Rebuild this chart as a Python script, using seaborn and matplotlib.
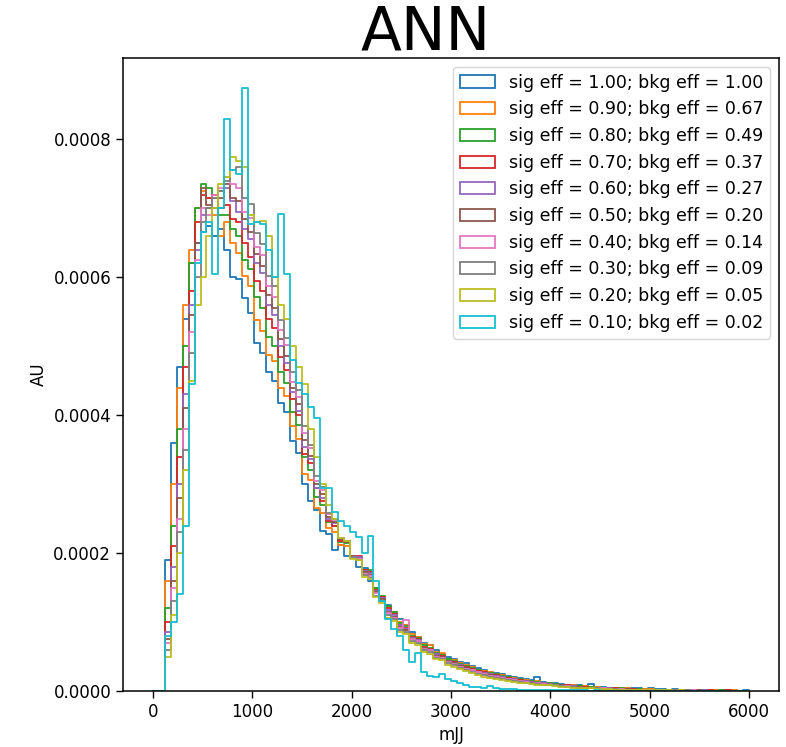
import numpy as np
import pandas as pd
import matplotlib
matplotlib.use("Agg")
import matplotlib.pyplot as plt
from matplotlib.patches import Patch
from matplotlib.ticker import FormatStrFormatter
import seaborn as sns

# ---------------- data (bin heights in units of 1e-6, 100 bins of width 60 from 0 to 6000)
MJJ_MIN, MJJ_MAX, N_BINS = 0, 6000, 100

sig_eff = [1.00, 0.90, 0.80, 0.70, 0.60, 0.50, 0.40, 0.30, 0.20, 0.10]
bkg_eff = [1.00, 0.67, 0.49, 0.37, 0.27, 0.20, 0.14, 0.09, 0.05, 0.02]
colors = ["#1f77b4", "#ff7f0e", "#2ca02c", "#d62728", "#9467bd",
          "#8c564b", "#e377c2", "#7f7f7f", "#bcbd22", "#17becf"]

h_100 = [0, 0, 190, 360, 470, 540, 620, 650, 665, 675,
         660, 670, 640, 600, 598, 570, 548, 505, 490, 462,
         450, 418, 405, 362, 345, 300, 276, 262, 232, 228,
         205, 212, 196, 194, 180, 178, 160, 150, 135, 125,
         112, 105, 95, 85, 78, 70, 66, 60, 54, 50,
         46, 42, 40, 36, 33, 30, 28, 26, 24, 22,
         20, 19, 17, 16, 20, 13, 12, 11, 10, 9,
         9, 8, 7, 10, 6, 6, 5, 5, 5, 4,
         4, 4, 3, 4, 3, 3, 2, 3, 2, 2,
         2, 1, 2, 1, 1, 1, 1, 1, 0, 1]
h_090 = [0, 0, 160, 300, 440, 560, 640, 700, 725, 715,
         690, 660, 680, 650, 635, 602, 588, 538, 522, 488,
         478, 440, 428, 384, 366, 315, 306, 266, 258, 236,
         230, 212, 210, 196, 194, 176, 172, 148, 137, 122,
         114, 100, 95, 82, 78, 68, 66, 56, 55, 47,
         45, 40, 38, 35, 31, 29, 27, 25, 23, 21,
         19, 18, 16, 15, 14, 12, 11, 10, 9, 9,
         8, 7, 7, 6, 6, 5, 5, 4, 4, 4,
         3, 3, 3, 3, 2, 2, 2, 2, 2, 1,
         1, 1, 1, 1, 1, 1, 0, 1, 0, 0]
h_080 = [0, 0, 120, 240, 380, 500, 620, 700, 735, 730,
         700, 690, 690, 670, 660, 625, 612, 572, 556, 514,
         500, 462, 446, 404, 386, 340, 320, 282, 270, 245,
         240, 216, 214, 196, 194, 176, 175, 150, 138, 123,
         114, 98, 94, 80, 77, 66, 63, 55, 52, 46,
         43, 39, 36, 33, 30, 28, 26, 24, 22, 20,
         18, 17, 15, 14, 13, 12, 11, 10, 9, 8,
         7, 7, 6, 6, 5, 5, 4, 4, 4, 3,
         3, 3, 2, 2, 2, 2, 2, 1, 1, 1,
         1, 1, 1, 1, 0, 1, 0, 0, 0, 0]
h_070 = [0, 0, 100, 210, 340, 470, 580, 680, 720, 715,
         720, 700, 705, 685, 680, 650, 630, 594, 580, 540,
         526, 484, 466, 424, 400, 344, 330, 294, 275, 246,
         240, 218, 216, 196, 196, 176, 173, 147, 137, 120,
         112, 96, 92, 78, 75, 64, 61, 54, 51, 44,
         42, 38, 35, 32, 29, 27, 25, 23, 21, 19,
         17, 16, 14, 13, 12, 11, 10, 9, 8, 8,
         7, 6, 6, 5, 5, 4, 4, 4, 3, 3,
         3, 2, 2, 2, 2, 2, 1, 1, 1, 1,
         1, 1, 0, 1, 0, 0, 1, 0, 0, 0]
h_060 = [0, 0, 85, 180, 300, 430, 560, 640, 690, 700,
         715, 725, 730, 710, 695, 670, 655, 620, 606, 560,
         546, 500, 476, 434, 406, 354, 336, 295, 280, 250,
         243, 220, 216, 196, 194, 174, 171, 145, 135, 118,
         110, 95, 90, 77, 74, 63, 60, 53, 50, 44,
         41, 37, 34, 31, 28, 26, 24, 22, 20, 18,
         17, 15, 14, 13, 12, 11, 10, 9, 8, 7,
         7, 6, 5, 5, 5, 4, 4, 3, 3, 3,
         2, 2, 2, 2, 2, 1, 1, 1, 1, 1,
         1, 0, 1, 0, 0, 0, 0, 0, 0, 0]
h_050 = [0, 0, 75, 160, 280, 410, 545, 650, 730, 705,
         700, 715, 735, 715, 710, 685, 666, 634, 616, 574,
         556, 510, 486, 440, 416, 364, 341, 300, 285, 253,
         245, 220, 216, 196, 191, 172, 168, 143, 133, 115,
         108, 93, 88, 76, 73, 62, 60, 51, 49, 43,
         40, 36, 33, 30, 27, 25, 23, 21, 19, 18,
         16, 15, 13, 12, 11, 10, 9, 9, 8, 7,
         6, 6, 5, 5, 4, 4, 3, 3, 3, 3,
         2, 2, 2, 2, 1, 1, 1, 1, 1, 1,
         0, 1, 0, 0, 0, 0, 0, 0, 0, 0]
h_040 = [0, 0, 70, 150, 250, 380, 520, 625, 700, 690,
         720, 730, 745, 735, 730, 695, 686, 644, 632, 588,
         572, 524, 502, 448, 426, 374, 352, 304, 291, 256,
         248, 222, 218, 195, 191, 170, 167, 142, 131, 113,
         106, 92, 103, 75, 72, 61, 59, 50, 48, 42,
         39, 35, 32, 30, 27, 24, 22, 20, 19, 17,
         16, 14, 13, 12, 11, 10, 9, 8, 7, 7,
         6, 5, 5, 4, 4, 4, 3, 3, 3, 2,
         2, 2, 2, 1, 1, 1, 1, 1, 1, 0,
         1, 0, 0, 0, 0, 0, 0, 0, 0, 0]
h_030 = [0, 0, 60, 130, 230, 350, 490, 600, 680, 700,
         715, 725, 740, 755, 760, 715, 706, 664, 648, 602,
         588, 538, 512, 462, 436, 384, 357, 312, 296, 258,
         250, 222, 218, 194, 190, 168, 164, 138, 130, 110,
         104, 88, 86, 72, 70, 59, 57, 48, 47, 40,
         37, 34, 31, 28, 25, 23, 21, 19, 18, 16,
         15, 13, 12, 11, 10, 9, 8, 8, 7, 6,
         6, 5, 5, 4, 4, 3, 3, 3, 2, 2,
         2, 2, 1, 1, 1, 1, 1, 1, 0, 1,
         0, 0, 0, 0, 0, 0, 0, 0, 0, 0]
h_020 = [0, 0, 50, 110, 200, 320, 450, 560, 600, 660,
         700, 735, 745, 775, 768, 760, 690, 680, 682, 660,
         600, 560, 540, 500, 470, 445, 380, 340, 300, 270,
         250, 222, 218, 192, 190, 166, 162, 136, 128, 106,
         101, 86, 83, 69, 67, 56, 54, 46, 45, 38,
         35, 32, 29, 26, 23, 21, 19, 18, 16, 15,
         13, 12, 11, 10, 9, 8, 8, 7, 6, 6,
         5, 5, 4, 4, 3, 3, 3, 2, 2, 2,
         2, 1, 1, 1, 1, 1, 1, 0, 1, 0,
         0, 0, 0, 0, 0, 0, 0, 0, 0, 0]
h_010 = [0, 0, 80, 100, 140, 240, 445, 620, 665, 680,
         605, 700, 830, 755, 750, 874, 677, 680, 677, 640,
         600, 692, 605, 480, 446, 430, 412, 396, 295, 295,
         260, 246, 240, 230, 224, 200, 225, 160, 130, 105,
         90, 80, 60, 42, 55, 27, 22, 20, 24, 18,
         15, 12, 8, 6, 6, 5, 7, 4, 3, 3,
         3, 2, 2, 2, 2, 1, 1, 1, 1, 1,
         1, 1, 1, 0, 1, 0, 0, 0, 0, 0,
         0, 0, 0, 0, 0, 0, 0, 0, 0, 0,
         0, 0, 0, 0, 0, 0, 0, 0, 0, 0]

heights = [h_100, h_090, h_080, h_070, h_060, h_050, h_040, h_030, h_020, h_010]
labels = [f"sig eff = {s:.2f}; bkg eff = {b:.2f}" for s, b in zip(sig_eff, bkg_eff)]

# ---------------- plotting
sns.set_style("ticks")
plt.rcParams["font.family"] = ["DejaVu Sans"]
plt.rcParams["axes.edgecolor"] = "black"
plt.rcParams["axes.labelcolor"] = "black"
plt.rcParams["text.color"] = "black"
plt.rcParams["xtick.color"] = "black"
plt.rcParams["ytick.color"] = "black"

bin_width = (MJJ_MAX - MJJ_MIN) / N_BINS
centers = MJJ_MIN + bin_width * (np.arange(N_BINS) + 0.5)

fig = plt.figure(figsize=(7.86, 7.47), dpi=100)
ax = fig.add_axes([123 / 786, 1 - 691 / 747, (779 - 123) / 786, (691 - 58) / 747])

for h, c, lab in zip(heights, colors, labels):
    df = pd.DataFrame({"mJJ": centers, "w": np.asarray(h, dtype=float) * 1e-6})
    sns.histplot(data=df, x="mJJ", weights="w", bins=N_BINS,
                 binrange=(MJJ_MIN, MJJ_MAX), element="step",
                 fill=False, color=c, linewidth=1.3, ax=ax)

ax.set_xlim(-300, 6300)
ax.set_ylim(0, 0.000918)
ax.set_xticks([0, 1000, 2000, 3000, 4000, 5000, 6000])
ax.set_yticks([0, 0.0002, 0.0004, 0.0006, 0.0008])
ax.yaxis.set_major_formatter(FormatStrFormatter("%.4f"))
ax.tick_params(labelsize=12, length=5, width=1)
ax.set_xlabel("mJJ", fontsize=12)
ax.set_ylabel("AU", fontsize=12)
for sp in ax.spines.values():
    sp.set_visible(True)
    sp.set_linewidth(1.1)

handles = [Patch(facecolor="none", edgecolor=c, linewidth=1.3) for c in colors]
ax.legend(handles, labels, loc="upper right", fontsize=12.5, frameon=True,
          handlelength=2.0, labelspacing=0.5)

fig.text(426 / 786, 1 - 50 / 747, "ANN", fontsize=43, ha="center", va="baseline",
         color="black")

fig.savefig("out.png", dpi=100)
